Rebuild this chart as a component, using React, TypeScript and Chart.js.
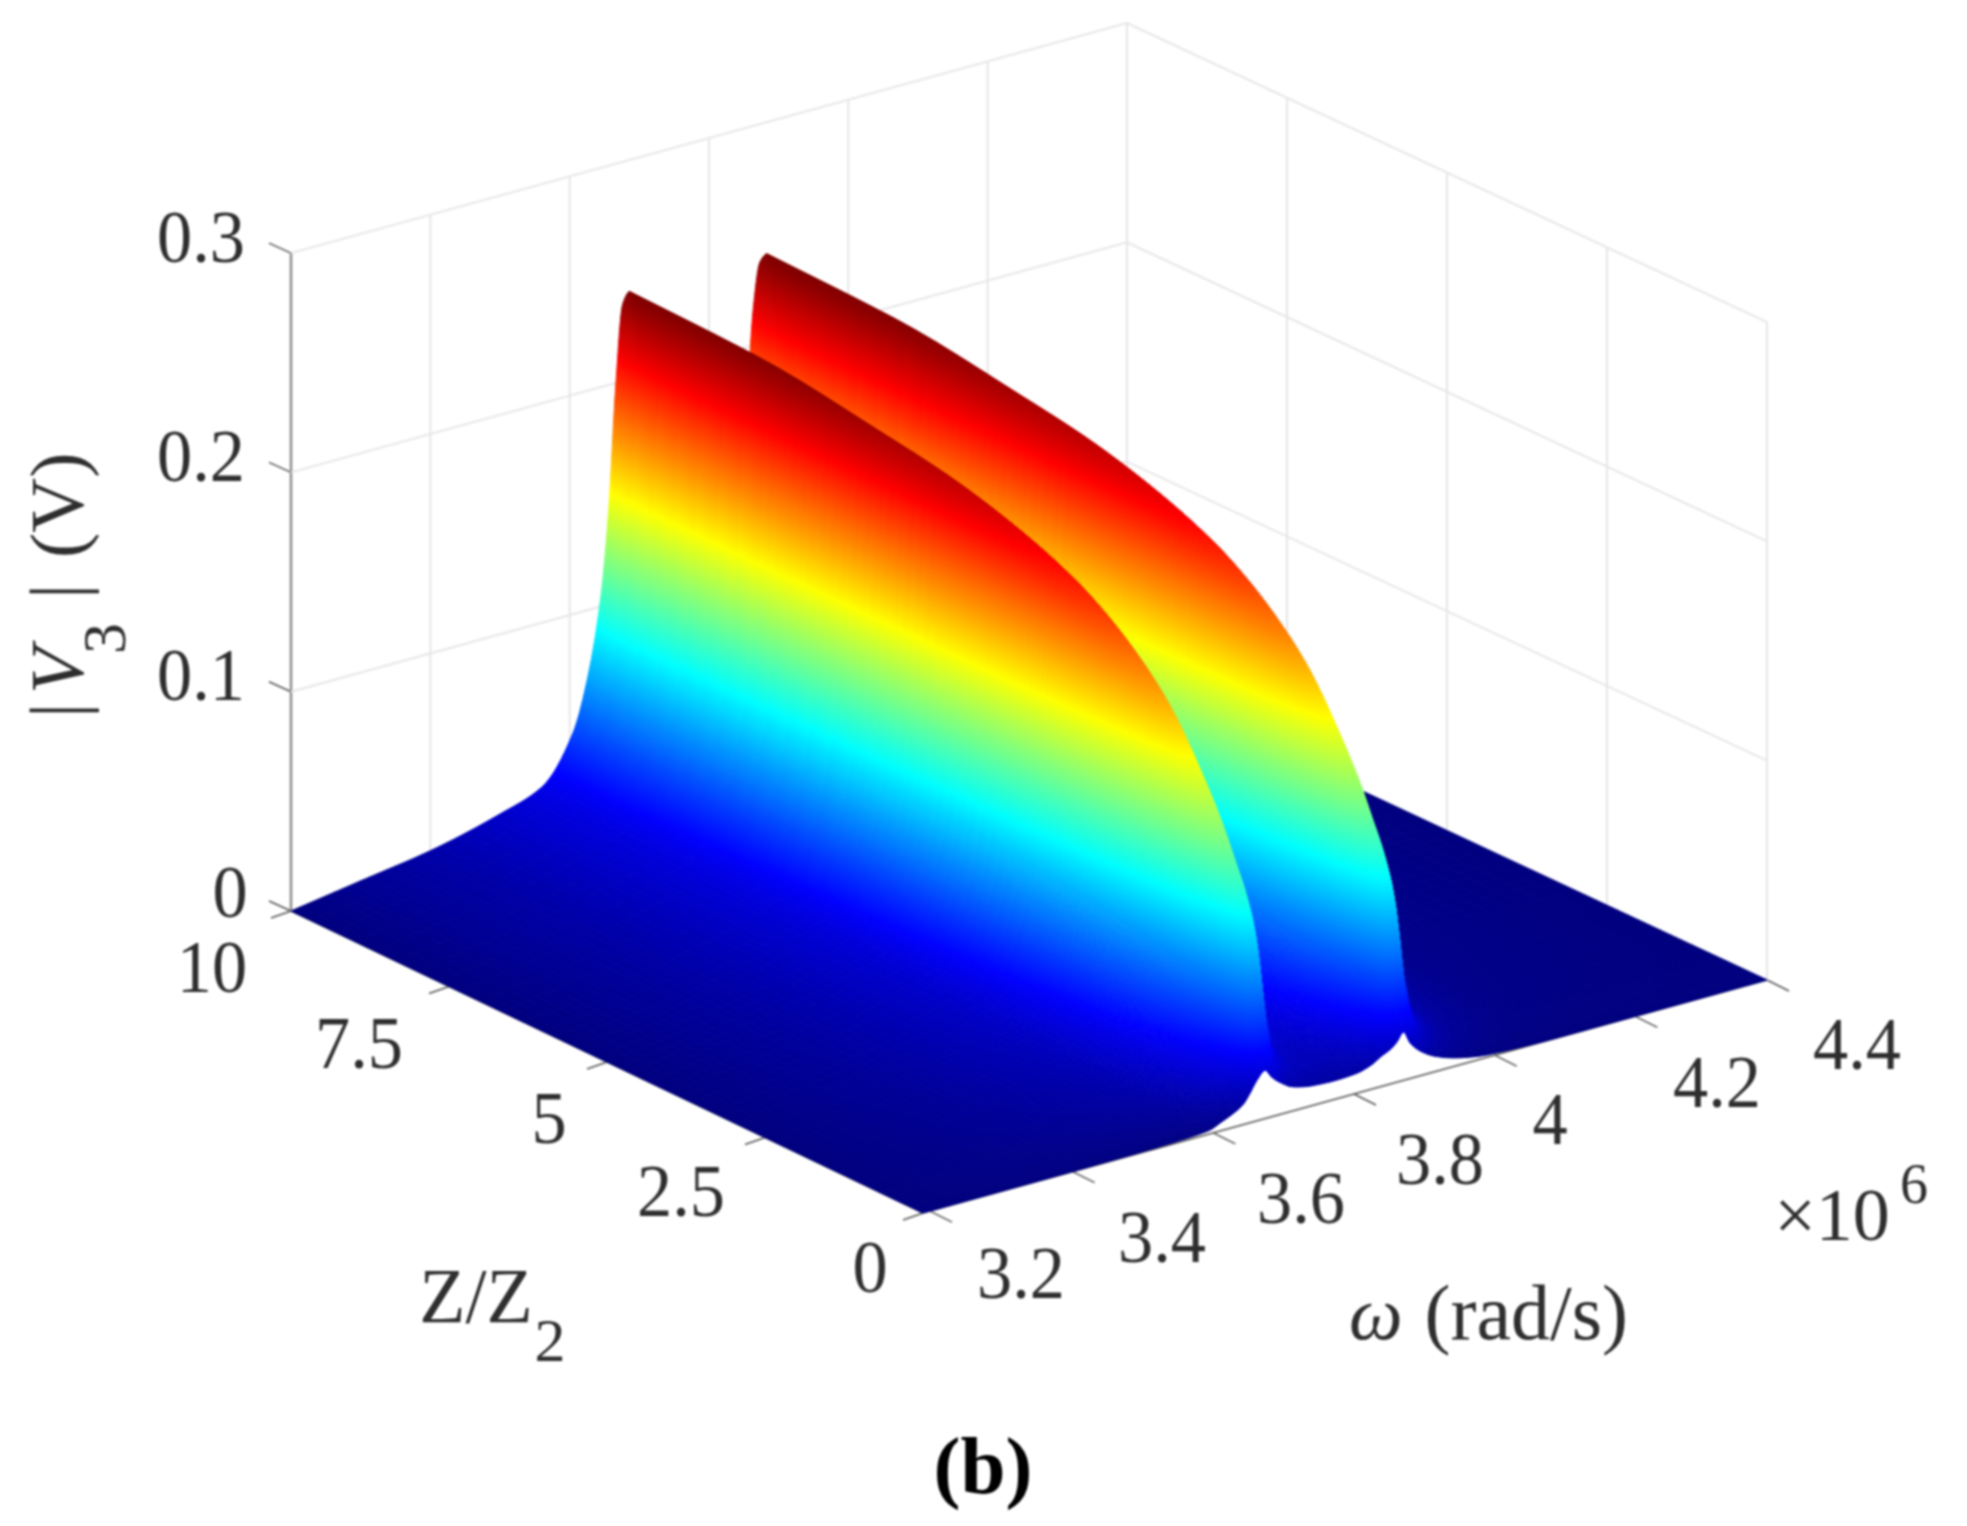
import React, { useEffect, useRef } from "react";
import { Chart, registerables } from "chart.js";
Chart.register(...registerables);

const omegaValues = [3.2,3.3,3.4,3.5,3.56,3.605,3.625,3.645,3.656,3.666,3.676,3.686,3.696,3.706,3.726,3.755,3.785,3.815,3.837,3.853,3.863,3.873,3.883,3.893,3.908,3.928,3.966,4.005,4.1,4.2,4.4];
const zValues = [10,8,6,5,4,3,2.5,2,1.5,1,0.7,0.5,0.3,0.15,0.05,0];
const vZ10 = [0,.005,.01,.018,.025,.046,.068,.105,.143,.198,.235,.24,.215,.17,.105,.06,.05,.07,.11,.165,.215,.237,.24,.215,.15,.09,.04,.02,.006,.003,0];
const vZ8 = [0,.0048,.0095,.0171,.0238,.0439,.065,.1008,.1383,.194,.233,.238,.211,.165,.101,.0572,.0476,.0667,.1058,.16,.211,.235,.238,.211,.145,.0863,.0381,.0191,.0057,.0029,0];
const vZ6 = [0,.0044,.0089,.016,.0223,.0412,.0609,.0947,.1305,.1853,.225,.23,.203,.1565,.0947,.0536,.0445,.0625,.0994,.152,.203,.227,.23,.203,.137,.0808,.0357,.0178,.0053,.0027,0];
const vZ5 = [0,.0042,.0085,.0153,.0212,.0392,.0581,.0907,.1255,.1796,.22,.225,.197,.151,.0907,.0511,.0425,.0596,.0952,.1464,.197,.222,.225,.197,.132,.0773,.034,.017,.0051,.0025,0];
const vZ4 = [0,.0039,.0079,.0142,.0197,.0365,.0541,.0847,.1179,.1706,.2113,.217,.188,.143,.0847,.0477,.0395,.0555,.0891,.138,.188,.2136,.217,.188,.124,.0721,.0316,.0158,.0047,.0024,0];
const vZ3 = [0,.0035,.0071,.0128,.0178,.0329,.0488,.0768,.1076,.158,.199,.205,.176,.131,.0768,.0429,.0357,.0503,.0806,.1267,.176,.2015,.205,.176,.1135,.0653,.0285,.0142,.0043,.0021,0];
const vZ25 = [0,.0033,.0065,.0118,.0164,.0303,.045,.0711,.1002,.149,.19,.196,.1666,.1228,.0711,.0396,.0329,.0463,.0749,.1184,.1666,.1926,.196,.1666,.1058,.0604,.0263,.0131,.0039,.002,0];
const vZ2 = [0,.003,.0059,.0107,.0148,.0275,.041,.0647,.0915,.1377,.178,.184,.1548,.1127,.0647,.0359,.0298,.042,.0681,.1086,.1548,.1805,.184,.1548,.0968,.0549,.0238,.0119,.0036,.0018,0];
const vZ15 = [0,.0026,.0051,.0092,.0128,.0237,.0354,.0562,.08,.1225,.162,.168,.1389,.0993,.0562,.031,.0257,.0363,.0592,.0955,.1389,.1645,.168,.1389,.0847,.0475,.0205,.0102,.0031,.0015,0];
const vZ1 = [0,.002,.0041,.0074,.0102,.019,.0284,.0452,.065,.1016,.138,.144,.1163,.0812,.0452,.0249,.0206,.0292,.0477,.0779,.1163,.1405,.144,.1163,.069,.0382,.0165,.0082,.0025,.0012,0];
const vZ07 = [0,.0016,.0033,.0059,.0082,.0153,.0229,.0368,.0532,.0855,.1209,.127,.0992,.0673,.0368,.0201,.0166,.0236,.0389,.0644,.0992,.1233,.127,.0992,.0566,.031,.0133,.0066,.002,.001,0];
const vZ05 = [0,.0013,.0027,.0048,.0067,.0125,.0188,.0303,.0441,.0724,.1066,.113,.0852,.0563,.0303,.0165,.0146,.0193,.032,.0537,.0852,.1092,.113,.0852,.0471,.0254,.0108,.0054,.0016,.0008,0];
const vZ03 = [0,.001,.002,.0036,.005,.0093,.014,.0226,.0333,.0568,.0906,.098,.0686,.043,.0226,.014,.0135,.0145,.0239,.0411,.0686,.0935,.098,.0686,.0356,.0189,.0081,.004,.0012,.0006,0];
const vZ015 = [0,.0007,.0014,.0025,.0035,.0065,.0098,.0159,.0236,.0416,.072,.08,.0514,.0309,.0159,.0118,.011,.012,.0168,.0293,.0514,.075,.08,.0514,.0254,.0133,.0056,.0028,.0008,.0004,0];
const vZ005 = [0,.0005,.001,.0017,.0024,.0045,.0067,.0109,.016,.0278,.0457,.05,.0339,.0208,.0109,.0098,.0095,.0105,.0115,.0199,.0339,.0476,.05,.0339,.0172,.0093,.0038,.0019,.0006,.0003,0];
const vZ0 = [0,0,0,.0002,.0006,.0015,.004,.007,.0095,.014,.019,.022,.018,.015,.011,.009,.0085,.009,.011,.014,.0155,.018,.022,.016,.011,.007,.003,.001,0,0,0];
const voltageRows = [vZ10,vZ8,vZ6,vZ5,vZ4,vZ3,vZ25,vZ2,vZ15,vZ1,vZ07,vZ05,vZ03,vZ015,vZ005,vZ0];

const omegaTicks = [3.2,3.4,3.6,3.8,4,4.2,4.4];
const zTicks = [10,7.5,5,2.5,0];
const vTicks = [0,0.1,0.2,0.3];

const colorMax = 0.24;

// Oblique view of the (omega, Z, V) box onto the chart's x / y plane
const CA = [291,911], CD = [1127,681], CB = [923,1213], CC = [1767,980];
const V_UNITS = 2193;
function project(w: number, z: number, v: number) {
  const u = (w - 3.2) / 1.2, s = 1 - z / 10;
  const x = CA[0]*(1-u)*(1-s) + CD[0]*u*(1-s) + CB[0]*(1-u)*s + CC[0]*u*s;
  const y = CA[1]*(1-u)*(1-s) + CD[1]*u*(1-s) + CB[1]*(1-u)*s + CC[1]*u*s;
  return { x, y: y - v * V_UNITS };
}

const JET: string[] = [];
for (let k = 0; k <= 1024; k++) {
  const t = k / 1024;
  const c = (a: number) => Math.round(255 * Math.max(0, Math.min(1, 1.5 - Math.abs(4 * t - a))));
  JET.push(`rgb(${c(3)},${c(2)},${c(1)})`);
}
const jet = (t: number) => JET[Math.max(0, Math.min(1024, Math.round(t * 1024)))];

// shape-preserving curve used only to shade the surface smoothly between table nodes
function shapeCurve(xs: number[], ys: number[]) {
  const n = xs.length;
  const h: number[] = [], d: number[] = [], m: number[] = new Array(n).fill(0);
  for (let i = 0; i < n - 1; i++) { h[i] = xs[i+1] - xs[i]; d[i] = (ys[i+1] - ys[i]) / h[i]; }
  m[0] = d[0]; m[n-1] = d[n-2];
  for (let i = 1; i < n - 1; i++) {
    if (d[i-1] * d[i] <= 0) m[i] = 0;
    else { const a = 2*h[i] + h[i-1], b = h[i] + 2*h[i-1]; m[i] = (a + b) / (a / d[i-1] + b / d[i]); }
  }
  return (i: number, f: number) => {
    const t = f, t2 = t*t, t3 = t2*t;
    return (2*t3-3*t2+1)*ys[i] + (t3-2*t2+t)*h[i]*m[i] + (-2*t3+3*t2)*ys[i+1] + (t3-t2)*h[i]*m[i+1];
  };
}

const line = (label: string, data: {x:number,y:number}[], color: string, width: number) => ({
  label, data, showLine: true, borderColor: color, borderWidth: width, pointRadius: 0, fill: false,
});

function buildDatasets() {
  const ds: any[] = [];
  const grid = "#e6e6e6", axis = "#555555";
  omegaTicks.slice(1).forEach(w => ds.push(line(`wall w${w}`, [project(w,10,0), project(w,10,0.3)], grid, 2)));
  zTicks.forEach(z => ds.push(line(`wall z${z}`, [project(4.4,z,0), project(4.4,z,0.3)], grid, 2)));
  vTicks.forEach(v => {
    ds.push(line(`wall v${v}`, [project(3.2,10,v), project(4.4,10,v), project(4.4,0,v)], grid, 2));
  });
  ds.push(line("V axis", [project(3.2,10,0), project(3.2,10,0.3)], "#8c8c8c", 2.5));
  ds.push(line("Z axis", [project(3.2,10,0), project(3.2,0,0)], axis, 1.5));
  ds.push(line("omega axis", [project(3.2,0,0), project(4.4,0,0)], axis, 1.5));
  vTicks.forEach(v => {
    const p = project(3.2,10,v);
    ds.push(line(`v tick ${v}`, [p, {x:p.x-22,y:p.y-10}], axis, 1.5));
  });
  zTicks.forEach(z => {
    const p = project(3.2,z,0);
    ds.push(line(`z tick ${z}`, [p, {x:p.x-20,y:p.y+7}], axis, 1.5));
  });
  omegaTicks.forEach(w => {
    const p = project(w,0,0);
    const off = w > 3.25 && w < 4.35 ? 9 : w < 3.25 ? 7 : 0;
    const q = { x: p.x + off, y: p.y - off * 0.277 };
    ds.push(line(`w tick ${w}`, [q, {x:q.x+22,y:q.y+11}], axis, 1.5));
  });
  voltageRows.forEach((row, j) => {
    ds.push({
      label: `|V3| at Z/Z2=${zValues[j]}`,
      surfaceRow: j, voltages: row,
      data: row.map((v, i) => project(omegaValues[i], zValues[j], v)),
      showLine: false, pointRadius: 0,
    });
  });
  return ds;
}

const surfacePlugin = {
  id: "surface",
  afterDatasetsDraw(chart: any) {
    const ctx = chart.ctx;
    const sx = chart.scales.x, sy = chart.scales.y;
    const KW = 8, KZ = 6;
    const fineW: number[] = [], wIdx: [number, number][] = [];
    for (let i = 0; i < omegaValues.length - 1; i++) {
      for (let k = 0; k < KW; k++) {
        fineW.push(omegaValues[i] + (omegaValues[i+1]-omegaValues[i]) * k / KW);
        wIdx.push([i, k / KW]);
      }
    }
    fineW.push(omegaValues[omegaValues.length-1]);
    wIdx.push([omegaValues.length-2, 1]);
    const rowCurves = voltageRows.map(r => shapeCurve(omegaValues, r));
    const byRow = rowCurves.map(c => wIdx.map(([i, f]) => c(i, f)));
    const negZ = zValues.map(z => -z);
    const colCurves = fineW.map((_, c) => shapeCurve(negZ, byRow.map(r => r[c])));
    const fineZ: number[] = [], zIdx: [number, number][] = [];
    for (let j = 0; j < zValues.length - 1; j++) {
      for (let k = 0; k < KZ; k++) {
        fineZ.push(zValues[j] + (zValues[j+1]-zValues[j]) * k / KZ);
        zIdx.push([j, k / KZ]);
      }
    }
    fineZ.push(zValues[zValues.length-1]);
    zIdx.push([zValues.length-2, 1]);
    const V = zIdx.map(([j, f]) => colCurves.map(c => Math.max(0, c(j, f))));
    const P = V.map((row, j) => row.map((v, i) => {
      const p = project(fineW[i], fineZ[j], v);
      return { x: sx.getPixelForValue(p.x), y: sy.getPixelForValue(p.y) };
    }));
    ctx.save();
    ctx.lineWidth = 1;
    ctx.lineJoin = "round";
    const STEP = 0.0012;
    for (let j = 0; j < V.length - 1; j++) {
      for (let i = fineW.length - 2; i >= 0; i--) {
        const p00 = P[j][i], p10 = P[j][i+1], p01 = P[j+1][i], p11 = P[j+1][i+1];
        const v00 = V[j][i], v10 = V[j][i+1], v01 = V[j+1][i], v11 = V[j+1][i+1];
        const nu = Math.min(30, Math.max(1, Math.ceil(Math.max(Math.abs(v10-v00), Math.abs(v11-v01)) / STEP)));
        const nw = Math.min(30, Math.max(1, Math.ceil(Math.max(Math.abs(v01-v00), Math.abs(v11-v10)) / STEP)));
        const ax = (u: number, w: number) => (p00.x*(1-u)+p10.x*u)*(1-w) + (p01.x*(1-u)+p11.x*u)*w;
        const ay = (u: number, w: number) => (p00.y*(1-u)+p10.y*u)*(1-w) + (p01.y*(1-u)+p11.y*u)*w;
        for (let m = 0; m < nw; m++) {
          for (let n = nu - 1; n >= 0; n--) {
            const u0 = n/nu, u1 = (n+1)/nu, w0 = m/nw, w1 = (m+1)/nw;
            const uc = (u0+u1)/2, wc = (w0+w1)/2;
            const v = (v00*(1-uc)+v10*uc)*(1-wc) + (v01*(1-uc)+v11*uc)*wc;
            const col = jet(v / colorMax);
            ctx.beginPath();
            ctx.moveTo(ax(u0,w0),ay(u0,w0)); ctx.lineTo(ax(u1,w0),ay(u1,w0));
            ctx.lineTo(ax(u1,w1),ay(u1,w1)); ctx.lineTo(ax(u0,w1),ay(u0,w1));
            ctx.closePath();
            ctx.fillStyle = col; ctx.strokeStyle = col;
            ctx.fill(); ctx.stroke();
          }
        }
      }
    }
    ctx.restore();
  },
};

const SERIF = '"Liberation Serif"';
const vTickText = [["0",230,917],["0.1",201,700],["0.2",201,481],["0.3",201,262]] as const;
const zTickText = [["10",212,992],["7.5",359,1068],["5",549,1143],["2.5",681,1216],["0",870,1292]] as const;
const wTickText = [["3.2",1021,1298],["3.4",1162,1262],["3.6",1301,1223],["3.8",1440,1184],["4",1550,1144],["4.2",1717,1107],["4.4",1857,1069]] as const;

const textPlugin = {
  id: "labels",
  afterDraw(chart: any) {
    const ctx = chart.ctx;
    ctx.save();
    ctx.fillStyle = "#2e2e2e";
    ctx.textBaseline = "alphabetic";
    const put = (s: string, x: number, y: number, font: string, align: CanvasTextAlign = "center", sx = 1) => {
      ctx.save();
      ctx.translate(x, y); ctx.scale(sx, 1);
      ctx.font = font; ctx.textAlign = align;
      ctx.fillText(s, 0, 0);
      ctx.restore();
    };
    const tick = `74px ${SERIF}`;
    [...vTickText, ...zTickText, ...wTickText].forEach(([s,x,y]) => put(s, x, y, tick, "center", 0.95));
    put("Z/Z", 476, 1322, `78px ${SERIF}`, "center", 0.97);
    put("2", 550, 1361, `62px ${SERIF}`);
    put("\u00d710", 1832, 1240, tick);
    put("6", 1914, 1203, `56px ${SERIF}`);
    put("\u03c9", 1349, 1339, `italic 76px ${SERIF}`, "left");
    put("(rad/s)", 1628, 1339, `78px ${SERIF}`, "right");
    // rotated |V3 | (V)
    ctx.save();
    ctx.translate(83, 712);
    ctx.rotate(-Math.PI / 2);
    ctx.textAlign = "left";
    ctx.font = `76px ${SERIF}`; ctx.fillText("|", -6, 0);
    ctx.font = `italic 76px ${SERIF}`; ctx.fillText("V", 18, 0);
    ctx.font = `62px ${SERIF}`; ctx.fillText("3", 58, 42);
    ctx.font = `76px ${SERIF}`; ctx.fillText("|", 113, 0);
    ctx.fillText("(V)", 154, 0);
    ctx.restore();
    ctx.fillStyle = "#000000";
    put("(b)", 983, 1493, `bold 81px ${SERIF}`);
    ctx.restore();
  },
};

export default function App() {
  const ref = useRef<HTMLCanvasElement>(null);
  useEffect(() => {
    document.body.style.margin = "0";
    document.body.style.overflow = "hidden";
    const chart = new Chart(ref.current as HTMLCanvasElement, {
      type: "scatter",
      data: { datasets: buildDatasets() },
      options: {
        animation: false,
        responsive: false,
        events: [],
        layout: { padding: 0 },
        scales: {
          x: { type: "linear", min: 0, max: 1967, display: false },
          y: { type: "linear", min: 0, max: 1526, reverse: true, display: false },
        },
        plugins: { legend: { display: false }, tooltip: { enabled: false } },
      },
      plugins: [surfacePlugin, textPlugin],
    } as any);
    return () => chart.destroy();
  }, []);
  return (
    <canvas
      ref={ref}
      width={1967}
      height={1526}
      style={{ display: "block", width: 1967, height: 1526, background: "#ffffff", filter: "blur(0.9px)" }}
    />
  );
}
